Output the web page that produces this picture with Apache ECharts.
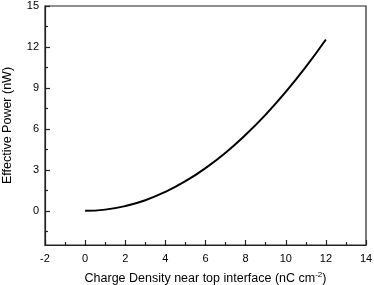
<!DOCTYPE html>
<html><head><meta charset="utf-8">
<script src="https://cdn.jsdelivr.net/npm/echarts@6/dist/echarts.min.js"></script>
<style>html,body{margin:0;padding:0;background:#fff}#c{width:374px;height:285px}</style>
</head><body><div id="c"></div>
<script>
const xValues = [0, 1, 2, 3, 4, 5, 6, 7, 8, 9, 10, 11, 12];
const yValues = [0, 0.09, 0.35, 0.78, 1.39, 2.17, 3.13, 4.26, 5.57, 7.05, 8.71, 10.54, 12.55];
const yTicks = [0, 3, 6, 9, 12, 15];
const yMinorTicks = [-1.5, 1.5, 4.5, 7.5, 10.5, 13.5];
const xTitle = 'Charge Density near top interface (nC cm';
const yTitle = 'Effective Power (nW)';

const font = 'Liberation Sans, Arial, sans-serif';
const tickStyle = {color: '#222', width: 1.2};
const chart = echarts.init(document.getElementById('c'), null, {renderer: 'canvas'});
chart.setOption({
  animation: false,
  backgroundColor: '#fff',
  grid: {left: 45, right: 8, top: 6, bottom: 40, containLabel: false, outerBoundsMode: 'none',
    show: true, borderColor: '#222', borderWidth: 1.2, backgroundColor: 'transparent'},
  xAxis: {
    type: 'value', min: -2, max: 14, interval: 2,
    name: '{a|' + xTitle + '}{s|-2}{a|)}', nameLocation: 'middle', nameGap: 26,
    nameTextStyle: {rich: {a: {fontFamily: font, fontSize: 12.5, color: '#000'}, s: {fontFamily: font, fontSize: 8, color: '#000', verticalAlign: 'top', padding: [0, 0, 8, 0]}}},
    axisLine: {show: true, onZero: false, lineStyle: tickStyle},
    axisTick: {show: true, inside: true, length: 5, lineStyle: tickStyle},
    minorTick: {show: true, splitNumber: 2, length: 3, lineStyle: tickStyle},
    axisLabel: {fontFamily: font, fontSize: 11, color: '#000', margin: 8},
    splitLine: {show: false}
  },
  yAxis: [{
    type: 'value', min: -2.5, max: 15, position: 'left',
    name: yTitle, nameLocation: 'middle', nameGap: 31,
    nameTextStyle: {fontFamily: font, fontSize: 12.5, color: '#000'},
    axisLine: {show: true, onZero: false, lineStyle: tickStyle},
    axisTick: {show: false},
    axisLabel: {fontFamily: font, fontSize: 11, color: '#000', margin: 6, customValues: yTicks},
    splitLine: {show: false}
  }, {
    type: 'value', min: -2.5, max: 15, position: 'left', offset: 0,
    axisLine: {show: false, onZero: false},
    axisTick: {show: true, inside: true, length: 5, customValues: yTicks, lineStyle: tickStyle},
    axisLabel: {show: false, customValues: yTicks},
    splitLine: {show: false}
  }, {
    type: 'value', min: -2.5, max: 15, position: 'left', offset: 0,
    axisLine: {show: false, onZero: false},
    axisTick: {show: true, inside: true, length: 3, customValues: yMinorTicks, lineStyle: tickStyle},
    axisLabel: {show: false, customValues: yMinorTicks},
    splitLine: {show: false}
  }],
  series: [{
    type: 'line', yAxisIndex: 0,
    data: xValues.map((x, i) => [x, yValues[i]]),
    smooth: true, showSymbol: false,
    lineStyle: {color: '#000', width: 2}
  }]
});
</script></body></html>
